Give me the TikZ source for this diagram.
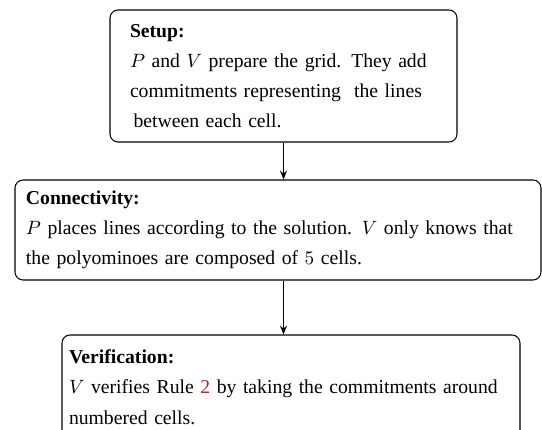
\documentclass[tikz,border=0pt]{standalone}
\usepackage{fontspec}
\setmainfont{Liberation Serif}
\usetikzlibrary{arrows.meta}
\definecolor{refred}{RGB}{180,40,40}
\tikzset{
  stage/.style={rectangle, draw, rounded corners=0.16cm, line width=0.6pt, align=left, inner ysep=0pt, font=\fontsize{11.2}{17.2}\selectfont}
}
\begin{document}
\begin{tikzpicture}[>={Stealth[length=5pt,width=4pt]}]
  \clip (0, 0) rectangle (10.84, 8.6);
  % Nodes
  \node (setup) [stage, minimum height=2.64cm, inner xsep=0.4cm, text width=6.14cm] at (5.67, 7.08) {\textbf{Setup:}\\$P$ and $V$ prepare the grid. They add\\commitments representing\ \ the lines\\\hspace{2pt}between each cell.};
  \node (connect) [stage, minimum height=2.0cm, inner xsep=0.22cm, text width=10.08cm] at (5.56, 4.0) {\textbf{Connectivity:}\\$P$ places lines according to the solution. $V$ only knows that\\the polyominoes are composed of $5$ cells.};
  \node (verify) [stage, minimum height=2.08cm, inner xsep=0.14cm, text width=8.88cm] at (5.82, 0.86) {\textbf{Verification:}\\$V$ verifies Rule {\color{refred}2} by taking the commitments around\\numbered cells.};
  % Arrow
  \draw[->, line width=0.6pt] (setup.south) -- (setup.south |- connect.north);
  \draw[->, line width=0.6pt] (setup.south |- connect.south) -- (setup.south |- verify.north);
\end{tikzpicture}
\end{document}
